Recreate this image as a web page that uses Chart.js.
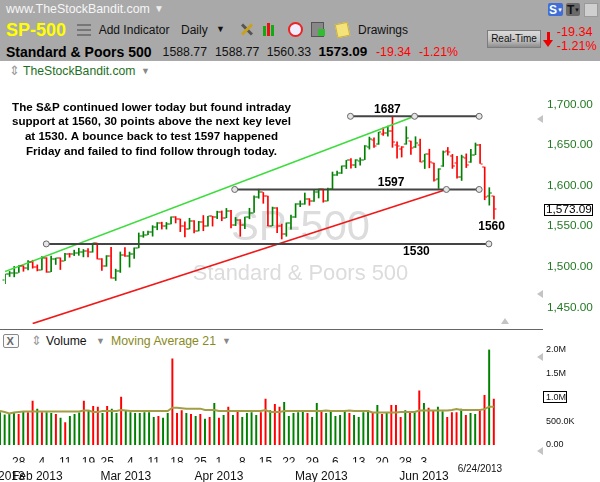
<!DOCTYPE html>
<html lang="en">
<head>
<meta charset="UTF-8">
<title>SP-500 Daily</title>
<style>
  body { margin: 0; width: 600px; height: 482px; overflow: hidden; position: relative; background: #fff;
         font-family: "Liberation Sans", Arial, sans-serif; }
  .a { position: absolute; white-space: nowrap; line-height: 1; }
  #hdr { position: absolute; left: 0; top: 0; width: 600px; height: 61px; background: #a9a9a9; }
  .tri-l { position: absolute; width: 0; height: 0; border-top: 4px solid transparent;
           border-bottom: 4px solid transparent; border-right: 6px solid #c4c4c4; }
  .tri-u { position: absolute; width: 0; height: 0; border-left: 4px solid transparent;
           border-right: 4px solid transparent; border-bottom: 6px solid #c4c4c4; }
  canvas { position: absolute; left: 0; }
</style>
</head>
<body>
  <!-- grey toolbar -->
  <div id="hdr">
    <div class="a" style="left:6px;top:3px;font-size:12.4px;color:#f6f6f6;">www.TheStockBandit.com</div>
    <div class="a" style="left:154px;top:4px;font-size:10px;color:#eee;">▼</div>

    <div class="a" style="left:6px;top:20.5px;font-size:18px;font-weight:bold;color:#ffff00;">SP-500</div>
    <div class="a" style="left:77px;top:24px;width:14px;height:12px;
         background:repeating-linear-gradient(#777 0 2px, transparent 2px 5px);"></div>
    <div class="a" style="left:98.7px;top:23.5px;font-size:12px;color:#111;">Add Indicator</div>
    <div class="a" style="left:181px;top:23.5px;font-size:12px;color:#111;">Daily</div>
    <div class="a" style="left:216px;top:25px;font-size:9px;color:#111;">▼</div>
    <!-- toolbar icons -->
    <div class="a" style="left:240px;top:28px;width:14px;height:3px;background:#555;transform:rotate(45deg);"></div>
    <div class="a" style="left:240px;top:28px;width:14px;height:3px;background:#c9a21c;transform:rotate(-45deg);"></div>
    <div class="a" style="left:263px;top:26px;width:3px;height:10px;background:#1a1;"></div>
    <div class="a" style="left:267px;top:23px;width:3px;height:13px;background:#e11;"></div>
    <div class="a" style="left:271px;top:25px;width:3px;height:11px;background:#1a1;"></div>
    <div class="a" style="left:288px;top:22px;width:11px;height:11px;border:2px solid #e22;border-radius:50%;background:#eef;"></div>
    <div class="a" style="left:311px;top:22px;width:11px;height:13px;background:#888;border:1px solid #555;"></div>
    <div class="a" style="left:318px;top:29px;width:7px;height:7px;background:#3b3;"></div>
    <div class="a" style="left:336px;top:23px;width:11px;height:12px;background:#f4e27a;border:1px solid #c9b040;transform:rotate(-12deg);"></div>
    <div class="a" style="left:358px;top:23.5px;font-size:12px;color:#111;">Drawings</div>

    <div class="a" style="left:6px;top:44.8px;font-size:14px;font-weight:bold;color:#000;">Standard &amp; Poors 500</div>
    <div class="a" style="left:162.6px;top:45.7px;font-size:12.3px;color:#111;">1588.77</div>
    <div class="a" style="left:215px;top:45.7px;font-size:12.3px;color:#111;">1588.77</div>
    <div class="a" style="left:266.7px;top:45.7px;font-size:12.3px;color:#111;">1560.33</div>
    <div class="a" style="left:318.4px;top:45.2px;font-size:13.5px;font-weight:bold;color:#000;">1573.09</div>
    <div class="a" style="left:376px;top:45.7px;font-size:12.3px;color:#f00;">-19.34</div>
    <div class="a" style="left:419px;top:45.7px;font-size:12.3px;color:#f00;">-1.21%</div>

    <!-- right side buttons -->
    <div class="a" style="left:548px;top:3px;width:15px;height:13px;background:#3e6ed6;border-radius:2px;"></div>
    <div class="a" style="left:549px;top:4px;font-size:12px;font-weight:bold;color:#fff;">S</div>
    <div class="a" style="left:557px;top:7px;font-size:6px;color:#fff;">▼</div>
    <div class="a" style="left:566px;top:3px;width:14px;height:13px;background:#6a6a6a;border-radius:2px;"></div>
    <div class="a" style="left:567px;top:4px;font-size:12px;font-weight:bold;color:#111;">T</div>
    <div class="a" style="left:574px;top:7px;font-size:6px;color:#111;">▼</div>
    <div class="a" style="left:584px;top:3px;width:12px;height:12px;background:#cfcfcf;border:1px solid #999;"></div>
    <div class="a" style="left:487px;top:30px;width:52px;height:16px;border:1px solid #7c7c7c;
         background:linear-gradient(#dadada,#c4c4c4 55%,#8e8e8e);"></div>
    <div class="a" style="left:487px;top:33.5px;width:54px;text-align:center;font-size:10px;color:#111;">Real-Time</div>
    <div class="a" style="left:547px;top:32px;width:3px;height:8px;background:#e00;"></div>
    <div class="a" style="left:543px;top:40px;width:0;height:0;border-left:5.5px solid transparent;
         border-right:5.5px solid transparent;border-top:7px solid #e00;"></div>
    <div class="a" style="left:556.8px;top:26.2px;font-size:12.6px;color:#f00;">-19.34</div>
    <div class="a" style="left:556.8px;top:39.5px;font-size:12.6px;color:#f00;">-1.21%</div>
  </div>

  <div class="a" style="left:9px;top:64px;font-size:13px;color:#999;">⇕</div>
  <div class="a" style="left:23px;top:65px;font-size:12.2px;color:#1d6f1d;">TheStockBandit.com</div>
  <div class="a" style="left:141px;top:67px;font-size:9px;color:#888;">▼</div>

  <canvas id="priceChart" width="600" height="251" style="top:78px;"></canvas>

  <div class="tri-l" style="left:537px;top:115px;"></div>
  <div class="tri-l" style="left:537px;top:290px;"></div>
  <div class="tri-u" style="left:501px;top:318px;"></div>
  <div class="a" style="left:0;top:328.5px;width:543px;height:1px;background:#666;"></div>

  <!-- volume panel header -->
  <div class="a" style="left:3px;top:334px;width:14px;height:12px;border:1px solid #888;border-radius:2px;background:#fafafa;"></div>
  <div class="a" style="left:6.5px;top:335.5px;font-size:11px;font-weight:bold;color:#666;">X</div>
  <div class="a" style="left:31px;top:334px;font-size:13px;color:#999;">⇕</div>
  <div class="a" style="left:46px;top:335px;font-size:12.2px;color:#111;">Volume</div>
  <div class="a" style="left:96px;top:337px;font-size:9px;color:#888;">▼</div>
  <div class="a" style="left:111px;top:335px;font-size:12.3px;color:#8a8a1c;">Moving Average 21</div>
  <div class="a" style="left:222px;top:337px;font-size:9px;color:#888;">▼</div>

  <canvas id="volumeChart" width="600" height="152" style="top:330px;"></canvas>

  <div class="tri-l" style="left:537px;top:353px;"></div>
  <div class="tri-l" style="left:537px;top:447px;"></div>
  <div class="a" style="left:457.7px;top:464px;font-size:10px;color:#111;">6/24/2013</div>

  <script src="https://cdn.jsdelivr.net/npm/chart.js"></script>
  <script>
    // trading days shown (Jan 22 - Jun 24 2013)
    const dates = ['Jan 22','Jan 23','Jan 24','Jan 25','Jan 28','Jan 29','Jan 30','Jan 31',
      'Feb 1','Feb 4','Feb 5','Feb 6','Feb 7','Feb 8','Feb 11','Feb 12','Feb 13','Feb 14','Feb 15','Feb 19','Feb 20','Feb 21','Feb 22','Feb 25','Feb 26','Feb 27','Feb 28',
      'Mar 1','Mar 4','Mar 5','Mar 6','Mar 7','Mar 8','Mar 11','Mar 12','Mar 13','Mar 14','Mar 15','Mar 18','Mar 19','Mar 20','Mar 21','Mar 22','Mar 25','Mar 26','Mar 27','Mar 28',
      'Apr 1','Apr 2','Apr 3','Apr 4','Apr 5','Apr 8','Apr 9','Apr 10','Apr 11','Apr 12','Apr 15','Apr 16','Apr 17','Apr 18','Apr 19','Apr 22','Apr 23','Apr 24','Apr 25','Apr 26','Apr 29','Apr 30',
      'May 1','May 2','May 3','May 6','May 7','May 8','May 9','May 10','May 13','May 14','May 15','May 16','May 17','May 20','May 21','May 22','May 23','May 24','May 28','May 29','May 30','May 31',
      'Jun 3','Jun 4','Jun 5','Jun 6','Jun 7','Jun 10','Jun 11','Jun 12','Jun 13','Jun 14','Jun 17','Jun 18','Jun 19','Jun 20','Jun 21','Jun 24'];

    const opens = [1485.98,1492.56,1494.81,1494.82,1502.96,1500.18,1507.84,1501.96,
      1498.11,1513.17,1495.71,1511.29,1512.12,1509.39,1517.93,1517.01,1519.43,1520.33,1521.38,1519.79,1530.94,1511.95,1502.42,1515.60,1487.85,1496.94,1515.99,
      1514.68,1518.20,1525.20,1539.79,1541.46,1544.26,1551.15,1556.22,1552.48,1554.52,1563.21,1560.70,1552.10,1548.34,1558.71,1545.90,1556.89,1551.69,1563.75,1562.86,
      1569.18,1562.17,1570.25,1553.69,1559.98,1553.26,1563.11,1568.61,1587.73,1593.30,1588.84,1552.36,1574.57,1552.03,1541.61,1555.25,1562.50,1578.78,1578.78,1585.16,1582.34,1593.58,
      1597.55,1582.77,1597.60,1614.40,1617.55,1625.95,1632.69,1626.69,1632.10,1633.75,1649.13,1658.07,1652.45,1665.71,1666.20,1669.39,1651.62,1646.67,1652.63,1656.57,1649.14,1652.13,
      1631.71,1640.73,1629.05,1609.29,1625.27,1644.67,1638.64,1629.94,1612.15,1635.52,1630.64,1639.77,1651.83,1624.62,1588.62,1588.77];
    const highs = [1492.56,1496.13,1502.27,1503.26,1503.23,1509.35,1509.94,1504.19,
      1514.41,1513.17,1514.96,1512.53,1512.90,1518.31,1518.31,1522.29,1524.69,1523.14,1524.24,1530.94,1530.94,1511.95,1515.64,1525.84,1498.99,1520.08,1525.34,
      1519.99,1525.27,1543.47,1545.25,1545.78,1552.48,1556.27,1556.77,1556.39,1563.32,1563.62,1560.70,1557.25,1561.56,1558.71,1557.74,1564.91,1563.95,1564.07,1570.28,
      1570.57,1573.66,1571.47,1562.60,1559.98,1563.07,1573.89,1589.07,1597.35,1593.30,1588.84,1575.35,1574.57,1554.38,1555.89,1565.55,1579.58,1583.00,1592.64,1585.78,1596.65,1597.57,
      1597.55,1598.60,1618.46,1619.77,1626.03,1632.78,1635.01,1633.70,1636.00,1651.10,1661.49,1660.51,1667.47,1672.84,1674.93,1687.18,1655.50,1649.78,1674.21,1656.57,1661.91,1658.99,
      1640.42,1646.53,1629.31,1622.56,1644.40,1648.69,1640.13,1637.71,1639.25,1640.80,1646.50,1654.19,1652.45,1624.62,1599.19,1588.77];
    const lows = [1481.16,1489.90,1489.46,1494.82,1496.33,1498.09,1500.11,1496.76,
      1498.11,1495.02,1495.71,1504.71,1498.49,1509.39,1513.61,1515.61,1515.93,1514.02,1514.14,1519.79,1511.41,1497.29,1502.42,1487.85,1485.01,1494.88,1514.46,
      1501.48,1512.29,1525.20,1538.11,1541.46,1539.50,1547.36,1548.24,1548.25,1554.52,1555.74,1545.13,1538.57,1548.34,1543.55,1545.90,1546.22,1551.69,1551.90,1561.08,
      1558.47,1562.17,1549.80,1552.52,1539.50,1548.63,1560.92,1568.61,1586.17,1579.97,1552.28,1552.36,1543.69,1536.03,1539.40,1548.19,1562.50,1575.80,1578.78,1577.56,1582.34,1586.50,
      1581.28,1582.77,1597.60,1614.21,1616.64,1622.70,1623.09,1623.71,1626.74,1633.75,1646.68,1648.60,1652.45,1663.52,1662.67,1648.86,1635.53,1636.88,1652.63,1640.05,1648.61,1630.74,
      1622.72,1623.62,1607.09,1598.23,1625.27,1639.26,1622.92,1610.92,1608.07,1623.96,1630.34,1639.77,1628.91,1584.32,1577.70,1560.33];
    const closes = [1492.56,1494.81,1494.82,1502.96,1500.18,1507.84,1501.96,1498.11,
      1513.17,1495.71,1511.29,1512.12,1509.39,1517.93,1517.01,1519.43,1520.33,1521.38,1519.79,1530.94,1511.95,1502.42,1515.60,1487.85,1496.94,1515.99,1514.68,
      1518.20,1525.20,1539.79,1541.46,1544.26,1551.18,1556.22,1552.48,1554.52,1563.23,1560.70,1552.10,1548.34,1558.71,1545.80,1556.89,1551.69,1563.77,1562.85,1569.19,
      1562.17,1570.25,1553.69,1559.98,1553.28,1563.07,1568.61,1587.73,1593.37,1588.85,1552.36,1574.57,1552.01,1541.61,1555.25,1562.50,1578.78,1578.79,1585.16,1582.24,1593.61,1597.57,
      1582.70,1597.59,1614.42,1617.50,1625.96,1632.69,1626.67,1633.70,1633.77,1650.34,1658.78,1650.47,1667.47,1666.29,1669.16,1655.35,1650.51,1649.60,1660.06,1648.36,1654.41,1630.74,
      1640.42,1631.38,1608.90,1622.56,1643.38,1642.81,1626.13,1612.52,1636.36,1626.73,1639.04,1651.81,1628.93,1588.19,1592.43,1573.09];
    const prevClose = 1485.98;   // close before the first bar, for colouring
    const lastClose = 1573.09;

    // volume (millions) and its 21-day moving average
    const volumes = [0.68,0.63,0.64,0.68,0.64,0.70,0.68,0.92,0.75,0.68,
      0.68,0.66,0.64,0.56,0.47,0.60,0.64,0.67,0.92,0.71,
      0.81,0.79,0.66,0.81,0.75,0.66,1.00,0.71,0.68,0.66,
      0.66,0.68,0.68,0.58,0.60,0.56,0.66,1.80,0.66,0.72,
      0.66,0.64,0.60,0.64,0.54,0.58,0.87,0.56,0.62,0.79,
      0.62,0.70,0.58,0.66,0.68,0.62,0.68,0.96,0.72,0.85,
      0.79,0.89,0.60,0.66,0.68,0.72,0.66,0.58,0.87,0.70,
      0.66,0.70,0.60,0.62,0.72,0.66,0.62,0.58,0.68,0.72,
      0.66,0.83,0.64,0.66,0.83,0.83,0.58,0.72,0.70,0.68,
      1.13,0.87,0.77,0.72,0.79,0.70,0.58,0.68,0.68,0.75,
      0.62,0.66,0.64,0.72,1.04,1.99,0.96];
    const volumeMA = [0.71,0.69,0.66,0.68,0.69,0.70,0.70,0.70,0.70,0.70,
      0.70,0.70,0.70,0.70,0.70,0.70,0.70,0.70,0.72,0.72,
      0.69,0.69,0.71,0.71,0.71,0.71,0.73,0.72,0.71,0.71,
      0.71,0.71,0.71,0.71,0.71,0.71,0.71,0.78,0.78,0.77,
      0.76,0.76,0.76,0.76,0.73,0.73,0.73,0.71,0.71,0.71,
      0.71,0.71,0.71,0.71,0.71,0.71,0.71,0.73,0.69,0.69,
      0.69,0.71,0.71,0.71,0.71,0.71,0.71,0.71,0.71,0.71,
      0.72,0.71,0.71,0.71,0.71,0.72,0.71,0.71,0.71,0.71,
      0.68,0.68,0.68,0.68,0.68,0.68,0.69,0.69,0.69,0.69,
      0.72,0.72,0.72,0.72,0.72,0.72,0.72,0.73,0.75,0.73,
      0.73,0.73,0.73,0.73,0.75,0.80,0.80];

    // axis ticks
    const priceTicks = [1450, 1500, 1550, 1600, 1650, 1700];
    const volumeTicks = [0, 0.5, 1.0, 1.5, 2.0];
    const dayTicks = ['Jan 28','Feb 4','Feb 11','Feb 19','Feb 25','Mar 4','Mar 11','Mar 18','Mar 25',
      'Apr 1','Apr 8','Apr 15','Apr 22','Apr 29','May 6','May 13','May 20','May 28','Jun 3'];
    const monthStarts = ['Jan 22','Feb 1','Mar 1','Apr 1','May 1','Jun 3'];
    const monthLabels = ['Jan 2013','Feb 2013','Mar 2013','Apr 2013','May 2013','Jun 2013'];

    // drawn levels and trendlines (x in bar index, y in price)
    const levelValues = [1687, 1597, 1530];
    const levelFrom   = [74.9, 49.8, 8.95];
    const levelMid    = [88.8, 95.7, null];
    const levelTo     = [102.8, 102.8, 104.9];
    const levelLabelX = [82.9, 83.7, 89.2];
    const supportValue = 1560, supportLabelX = 105.5;
    const greenTrend = [[0, 1496], [88.8, 1687]];
    const redTrend = [[6, 1432], [95.7, 1597]];

    const noteLines = ['The S&P continued lower today but found intraday',
      'support at 1560, 30 points above the next key level',
      'at 1530. A bounce back to test 1597 happened',
      'Friday and failed to find follow through today.'];

    const GREEN = '#008000', RED = '#ff0000';
    const barColors = closes.map((c, i) => c >= (i === 0 ? prevClose : closes[i - 1]) ? GREEN : RED);
    const FONT = '"Liberation Sans", Arial, sans-serif';
    Chart.defaults.font.family = FONT;
    const X_MIN = 0, X_MAX = 108.4;

    const fixY = s => { s.width = 95; s.paddingTop = 0; s.paddingBottom = 0; };

    // open / close ticks, labels and the watermark
    const priceOverlay = {
      id: 'priceOverlay',
      beforeDatasetsDraw(chart) {
        const { ctx } = chart;
        ctx.save();
        ctx.fillStyle = '#dcdcdc';
        ctx.textAlign = 'center';
        ctx.font = '41.7px ' + FONT;
        ctx.fillText('SP-500', 300.5, 162);
        ctx.font = '21.9px ' + FONT;
        ctx.fillText('Standard & Poors 500', 300.5, 202);
        ctx.restore();
      },
      afterDatasetsDraw(chart) {
        const { ctx, scales: { x, y } } = chart;
        ctx.save();
        closes.forEach((c, i) => {
          const px = x.getPixelForValue(i);
          ctx.fillStyle = barColors[i];
          ctx.fillRect(px - 2.5, Math.round(y.getPixelForValue(opens[i])) - 0.5, 2, 1);
          ctx.fillRect(px + 0.5, Math.round(y.getPixelForValue(c)) - 0.5, 2, 1);
        });
        ctx.fillStyle = '#000';
        ctx.textAlign = 'center';
        ctx.textBaseline = 'middle';
        ctx.font = 'bold 12px ' + FONT;
        levelValues.forEach((v, k) => {
          const off = v === 1530 ? 7.5 : -6.5;
          ctx.fillText(String(v), x.getPixelForValue(levelLabelX[k]), y.getPixelForValue(v) + off);
        });
        ctx.fillText(String(supportValue), x.getPixelForValue(supportLabelX), y.getPixelForValue(supportValue) + 7.5);
        ctx.font = 'bold 11.6px ' + FONT;
        noteLines.forEach((t, k) => ctx.fillText(t, 151.5, 29.5 + k * 14.6));
        ctx.restore();
      },
      afterDraw(chart) {
        const { ctx, scales: { y } } = chart;
        const py = y.getPixelForValue(lastClose);
        ctx.save();
        ctx.fillStyle = '#fff';
        ctx.fillRect(544, py - 5, 48, 11);
        ctx.strokeStyle = '#000';
        ctx.lineWidth = 1;
        ctx.strokeRect(544.5, Math.round(py) - 4.5, 48, 11);
        ctx.fillStyle = '#000';
        ctx.font = '11.8px ' + FONT;
        ctx.textBaseline = 'middle';
        ctx.fillText(lastClose.toLocaleString('en-US', { minimumFractionDigits: 2 }), 546, py + 1);
        ctx.restore();
      }
    };

    const levelDatasets = levelValues.map((v, k) => {
      const xs = [levelFrom[k], levelMid[k], levelTo[k]].filter(q => q !== null);
      return {
        type: 'line', data: xs.map(q => ({ x: q, y: v })),
        borderColor: '#444', borderWidth: 2, pointRadius: 3, pointBorderWidth: 1,
        pointBorderColor: '#666', pointBackgroundColor: '#e6e6e6', order: 0
      };
    });
    const trendDataset = (pts, color) => ({
      type: 'line', data: pts.map(p => ({ x: p[0], y: p[1] })),
      borderColor: color, borderWidth: 1.6, pointRadius: 0, order: 1
    });

    new Chart(document.getElementById('priceChart'), {
      type: 'bar',
      data: {
        datasets: [
          ...levelDatasets,
          trendDataset(greenTrend, '#3ddc3d'),
          trendDataset(redTrend, '#f01818'),
          {
            type: 'bar', data: closes.map((c, i) => ({ x: i, y: [lows[i], highs[i]] })),
            backgroundColor: barColors, barThickness: 1, grouped: false, order: 2
          }
        ]
      },
      options: {
        responsive: false, animation: false, devicePixelRatio: 1,
        layout: { padding: 0 },
        plugins: { legend: { display: false }, tooltip: { enabled: false } },
        scales: {
          x: { type: 'linear', min: X_MIN, max: X_MAX, offset: false, display: false },
          y: {
            type: 'linear', position: 'right', min: 1431.45, max: 1728,
            afterBuildTicks: s => { s.ticks = priceTicks.map(v => ({ value: v })); },
            afterFit: fixY,
            grid: { display: false, drawTicks: false }, border: { display: false },
            ticks: {
              color: '#237823', padding: 42, labelOffset: -1.5, font: { size: 11.8 },
              callback: v => v.toLocaleString('en-US', { minimumFractionDigits: 2, maximumFractionDigits: 2 })
            }
          }
        }
      },
      plugins: [priceOverlay]
    });

    const volBox = {
      id: 'volBox',
      afterDraw(chart) {
        const { ctx, scales: { y } } = chart;
        const py = Math.round(y.getPixelForValue(1.0));
        ctx.save();
        ctx.strokeStyle = '#000';
        ctx.strokeRect(543.5, py - 5.5, 23, 11);
        ctx.restore();
      }
    };

    const idx = d => dates.indexOf(d);
    const noPad = s => { s.paddingLeft = 0; s.paddingRight = 0; };

    new Chart(document.getElementById('volumeChart'), {
      type: 'bar',
      data: {
        datasets: [
          {
            type: 'line', data: volumeMA.map((v, i) => ({ x: i, y: v })),
            borderColor: '#a29e45', borderWidth: 2, pointRadius: 0, order: 0
          },
          {
            type: 'bar', data: volumes.map((v, i) => ({ x: i, y: v })),
            backgroundColor: barColors, barThickness: 1.3, grouped: false, order: 1
          }
        ]
      },
      options: {
        responsive: false, animation: false, devicePixelRatio: 1,
        layout: { padding: { top: 19.3, left: 0, right: 0, bottom: 0 } },
        plugins: { legend: { display: false }, tooltip: { enabled: false } },
        scales: {
          x: {
            type: 'linear', min: X_MIN, max: X_MAX, offset: false, position: 'bottom', weight: 0,
            afterBuildTicks: s => { s.ticks = dayTicks.map(d => ({ value: idx(d) })); },
            afterFit: s => { s.height = 17.5; noPad(s); },
            grid: { display: false, drawTicks: false, offset: false }, border: { display: false },
            ticks: {
              autoSkip: false, maxRotation: 0, padding: 10, color: '#111', font: { size: 12 },
              callback: v => dates[v].split(' ')[1]
            }
          },
          month: {
            type: 'linear', axis: 'x', min: X_MIN, max: X_MAX, offset: false, position: 'bottom', weight: 1,
            afterBuildTicks: s => { s.ticks = monthStarts.map(d => ({ value: idx(d) })); },
            afterFit: s => { s.height = 19.5; noPad(s); },
            grid: { display: false, drawTicks: false, offset: false }, border: { display: false },
            ticks: {
              autoSkip: false, maxRotation: 0, padding: 7, color: '#111', font: { size: 12 },
              callback: v => monthLabels[monthStarts.indexOf(dates[v])]
            }
          },
          y: {
            type: 'linear', position: 'right', min: 0, max: 2.0,
            afterBuildTicks: s => { s.ticks = volumeTicks.map(v => ({ value: v })); },
            afterFit: fixY,
            grid: { display: false, drawTicks: false }, border: { display: false },
            ticks: {
              color: '#111', padding: 41, font: { size: 9 },
              callback: v => v === 0 ? '0.00' : (v < 1 ? (v * 1000).toFixed(1) + 'K' : v.toFixed(1) + 'M')
            }
          }
        }
      },
      plugins: [volBox]
    });
  </script>
</body>
</html>
